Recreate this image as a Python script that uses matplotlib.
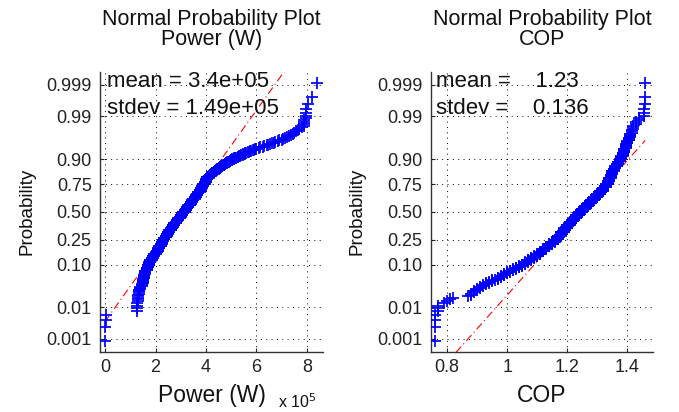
import numpy as np
import matplotlib
matplotlib.use("Agg")
import matplotlib.pyplot as plt
from matplotlib.ticker import FuncFormatter
from statistics import NormalDist

plt.rcParams['font.family'] = ['Liberation Sans', 'DejaVu Sans']

# sorted samples, stored as value + how many samples share it
# power in units of 1e5 W
power_vals = [0.00, 0.02, 0.04, 1.25, 1.30, 1.35, 1.40, 1.45,
              1.50, 1.55, 1.60, 1.65, 1.70,
              1.75, 1.80, 1.85, 1.90, 1.95, 2.00, 2.05,
              2.10, 2.15, 2.20, 2.25, 2.30,
              2.35, 2.40, 2.45, 2.50, 2.55, 2.60, 2.65, 2.70,
              2.75, 2.80, 2.85, 2.90, 2.95, 3.00, 3.05, 3.10,
              3.15, 3.20, 3.25, 3.30, 3.35, 3.40, 3.45, 3.50,
              3.55, 3.60, 3.65, 3.70, 3.75, 3.80, 3.85, 3.90,
              3.95, 4.00, 4.05,
              4.10, 4.15, 4.20, 4.25, 4.30, 4.35,
              4.40, 4.45, 4.50, 4.55, 4.60, 4.65, 4.70, 4.75, 4.80, 4.85, 4.90, 4.95, 5.00, 5.05,
              5.10, 5.15, 5.20, 5.25, 5.30, 5.35, 5.40, 5.45, 5.50, 5.55, 5.60, 5.65, 5.70, 5.75, 5.80, 5.85,
              5.90, 5.95, 6.00, 6.10, 6.15, 6.25, 6.30, 6.40, 6.45, 6.55, 6.60, 6.70, 6.75, 6.85, 6.90, 7.00,
              7.05, 7.15, 7.20, 7.30, 7.35, 7.45, 7.50, 7.55, 7.65, 7.70, 7.80,
              7.90, 7.95, 8.05, 8.20, 8.40]
power_counts = [2, 1, 1, 4, 5, 4, 3, 3,
                7, 7, 7, 7, 7,
                6, 6, 6, 6, 6, 6, 5,
                9, 9, 9, 9, 9,
                9, 9, 9, 9, 9, 9, 9, 9,
                9, 9, 9, 9, 9, 9, 9, 9,
                9, 9, 9, 9, 9, 9, 9, 9,
                9, 9, 9, 9, 9, 9, 9, 9,
                10, 10, 9,
                4, 4, 4, 4, 4, 3,
                3, 3, 3, 3, 2, 3, 2, 3, 2, 2, 2, 2, 2, 2,
                2, 1, 1, 2, 1, 1, 1, 2, 1, 1, 1, 1, 1, 1, 1, 1,
                1, 1, 1, 1, 1, 1, 1, 1, 1, 1, 1, 1, 1, 1, 1, 1,
                1, 1, 1, 1, 1, 1, 1, 1, 1, 1, 1,
                4, 4, 1, 1, 1]

cop_vals = [0.76, 0.77, 0.79, 0.80, 0.81, 0.82, 0.87, 0.88,
            0.89, 0.90, 0.91, 0.92, 0.93, 0.94, 0.95, 0.96,
            0.97, 0.98, 0.99, 1.00, 1.01, 1.02, 1.03, 1.04, 1.05,
            1.06, 1.07, 1.08, 1.09, 1.10,
            1.11, 1.12, 1.13, 1.14, 1.15, 1.16,
            1.17, 1.18, 1.19, 1.20, 1.21, 1.22, 1.23, 1.24,
            1.25, 1.26, 1.27, 1.28, 1.29, 1.30, 1.31, 1.32, 1.33,
            1.335, 1.34, 1.345, 1.35,
            1.355, 1.36, 1.365, 1.37, 1.375,
            1.38, 1.385, 1.39, 1.395,
            1.40, 1.405, 1.41, 1.415,
            1.42, 1.43, 1.44, 1.455, 1.46]
cop_counts = [4, 3, 1, 1, 1, 1, 1, 2,
              2, 2, 2, 2, 2, 2, 2, 1,
              3, 3, 3, 3, 3, 3, 4, 3, 4,
              6, 6, 6, 5, 6,
              9, 10, 9, 10, 9, 10,
              18, 18, 18, 18, 18, 18, 18, 18,
              16, 16, 16, 16, 16, 16, 16, 16, 16,
              13, 13, 13, 13,
              7, 7, 7, 7, 6,
              7, 7, 8, 7,
              4, 4, 4, 3,
              3, 2, 2, 3, 3]

prob_ticks = [0.001, 0.01, 0.10, 0.25, 0.50, 0.75, 0.90, 0.99, 0.999]
prob_labels = ["0.001", "0.01", "0.10", "0.25", "0.50", "0.75", "0.90", "0.99", "0.999"]
power_ticks = [0, 2e5, 4e5, 6e5, 8e5]
cop_ticks = [0.8, 1.0, 1.2, 1.4]

nd = NormalDist()


def p_to_z(p):
    p = np.clip(np.asarray(p, dtype=float), 1e-12, 1 - 1e-12)
    return np.vectorize(nd.inv_cdf, otypes=[float])(p)


def z_to_p(z):
    return np.vectorize(nd.cdf, otypes=[float])(np.asarray(z, dtype=float))


fig = plt.figure(figsize=(6.79, 4.12), dpi=100)
ax1 = fig.add_axes([0.1473, 0.1456, 0.3289, 0.6803])
ax2 = fig.add_axes([0.6343, 0.1456, 0.3274, 0.6803])

panels = [
    (ax1, np.repeat(power_vals, power_counts) * 1e5, "Normal Probability Plot\nPower (W)", "Power (W)",
     ("mean = 3.4e+05", "stdev = 1.49e+05"), (-0.2e5, 8.65e5), 0.031),
    (ax2, np.repeat(cop_vals, cop_counts), "Normal Probability Plot\nCOP", "COP",
     ("mean =    1.23", "stdev =    0.136"), (0.745, 1.486), 0.024),
]

for ax, x, title, xlabel, stats, xlim, tx in panels:
    n = len(x)
    prob = (np.arange(1, n + 1) - 0.5) / n
    ax.set_yscale('function', functions=(p_to_z, z_to_p))

    # reference line through the quartiles, like normplot
    q1, q3 = np.percentile(x, [25, 75])
    z1, z3 = nd.inv_cdf(0.25), nd.inv_cdf(0.75)
    slope = (z3 - z1) / (q3 - q1)
    xe = np.array([x.min(), x.max()])
    ax.plot(xe, z_to_p(z1 + slope * (xe - q1)), color='red', lw=0.8,
            ls=(0, (7, 3, 1, 3)), zorder=2)
    ax.plot(x, prob, '+', color='#0000ff', ms=9, mew=1.25, zorder=3)

    ax.set_xlim(*xlim)
    ax.set_ylim(z_to_p(-3.41), z_to_p(3.41))
    ax.set_yticks(prob_ticks)
    ax.set_yticklabels(prob_labels)
    ax.yaxis.set_minor_locator(plt.NullLocator())

    ax.grid(True, color='k', lw=0.7, ls=(0, (1, 4.5)))
    ax.set_axisbelow(True)
    for s in ['top', 'right']:
        ax.spines[s].set_visible(False)
    for s in ['left', 'bottom']:
        ax.spines[s].set_color('#333333')
        ax.spines[s].set_linewidth(1.0)
    ax.tick_params(direction='in', length=3, labelsize=13, colors='#222222')
    ax.tick_params(axis='y', pad=6)
    ax.tick_params(axis='x', pad=5)

    ax.set_title(title, fontsize=15.5, pad=19, linespacing=0.95, color='#111111')
    ax.set_xlabel(xlabel, fontsize=16.5, labelpad=6, color='#111111')
    ax.set_ylabel("Probability", fontsize=13.5, labelpad=8, color='#111111')
    ax.text(tx, 0.964, stats[0], transform=ax.transAxes, fontsize=16, va='center', color='#111111')
    ax.text(tx, 0.869, stats[1], transform=ax.transAxes, fontsize=16, va='center', color='#111111')

ax1.set_xticks(power_ticks)
ax1.xaxis.set_major_formatter(FuncFormatter(lambda v, pos: f"{v / 1e5:g}"))
ax1.text(0.795, -0.178, r"x 10$^5$", transform=ax1.transAxes, fontsize=11.5, va='center', color='#111111')

ax2.set_xticks(cop_ticks)
ax2.xaxis.set_major_formatter(FuncFormatter(lambda v, pos: f"{v:g}"))

fig.savefig("out.png", dpi=100, facecolor='white')
